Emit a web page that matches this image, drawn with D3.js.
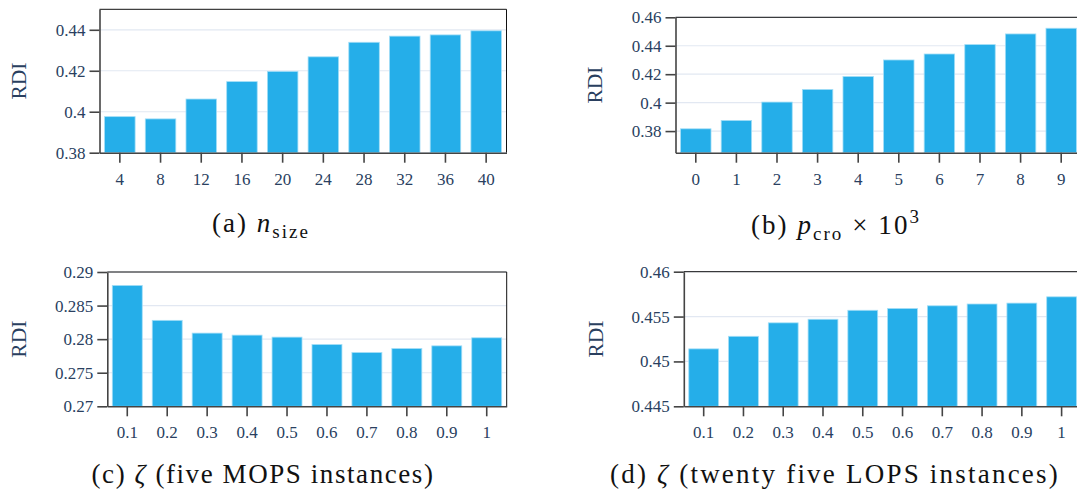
<!DOCTYPE html>
<html><head><meta charset="utf-8">
<script src="https://cdn.jsdelivr.net/npm/d3@7"></script>
<style>body{margin:0;background:#fff}svg{display:block}</style>
</head><body>
<svg id="c" width="1077" height="495"></svg>
<script>
// ---- data ----
const catsSize = ["4","8","12","16","20","24","28","32","36","40"];
const valsSize = [0.3976,0.3965,0.4062,0.4147,0.4197,0.4268,0.4339,0.4369,0.4375,0.4395];
const catsCro = ["0","1","2","3","4","5","6","7","8","9"];
const valsCro = [0.3816,0.3875,0.4004,0.4093,0.4184,0.4300,0.4342,0.4408,0.4483,0.4523];
const catsZeta = ["0.1","0.2","0.3","0.4","0.5","0.6","0.7","0.8","0.9","1"];
const valsMOPS = [0.2880,0.2828,0.2809,0.2806,0.2803,0.2792,0.2780,0.2786,0.2790,0.2802];
const valsLOPS = [0.4514,0.4528,0.4543,0.4547,0.4557,0.4559,0.4562,0.4564,0.4565,0.4572];
const ticksA = [0.38,0.40,0.42,0.44], tickLabA = ["0.38","0.4","0.42","0.44"];
const ticksB = [0.38,0.40,0.42,0.44,0.46], tickLabB = ["0.38","0.4","0.42","0.44","0.46"];
const ticksC = [0.27,0.275,0.28,0.285,0.29], tickLabC = ["0.27","0.275","0.28","0.285","0.29"];
const ticksD = [0.445,0.45,0.455,0.46], tickLabD = ["0.445","0.45","0.455","0.46"];
const domA = [0.38,0.45], domB = [0.3648,0.46], domC = [0.27,0.29], domD = [0.445,0.46];
const yTitle = "RDI";

// ---- layout ----
const panels = [
  {cats:catsSize, vals:valsSize, ticks:ticksA, labs:tickLabA, dom:domA,
   left:99.5, right:506.5, top:9.3, bottom:152.7, ylabOff:74,
   title:[{t:"(a) "},{t:"n",i:true},{t:"size",sub:true}], tx:261, ty:232, tw:98},
  {cats:catsCro, vals:valsCro, ticks:ticksB, labs:tickLabB, dom:domB,
   left:675.5, right:1081.5, top:17.3, bottom:152.7, ylabOff:74,
   title:[{t:"(b) "},{t:"p",i:true},{t:"cro",sub:true},{t:" \u00d7 10"},{t:"3",sup:true}], tx:836, ty:234, tw:170},
  {cats:catsZeta, vals:valsMOPS, ticks:ticksC, labs:tickLabC, dom:domC,
   left:107.3, right:506.7, top:272, bottom:406.3, ylabOff:81,
   title:[{t:"(c) "},{t:"\u03b6",i:true},{t:" (five MOPS instances)"}], tx:263, ty:483, tw:343},
  {cats:catsZeta, vals:valsLOPS, ticks:ticksD, labs:tickLabD, dom:domD,
   left:683.8, right:1081.5, top:271.7, bottom:406.3, ylabOff:81,
   title:[{t:"(d) "},{t:"\u03b6",i:true},{t:" (twenty five LOPS instances)"}], tx:835, ty:483, tw:450}
];

const svg = d3.select("#c");
const tickFont = "Liberation Serif, DejaVu Serif, serif";
const txtCol = "#2a3f5f";

panels.forEach(p => {
  const x = d3.scaleBand().domain(p.cats).range([p.left,p.right]).paddingInner(0.25).paddingOuter(0.125);
  const y = d3.scaleLinear().domain(p.dom).range([p.bottom,p.top]);
  const g = svg.append("g");
  g.selectAll("line.grid").data(p.ticks).join("line").attr("class","grid")
    .attr("x1",p.left).attr("x2",p.right).attr("y1",d=>y(d)).attr("y2",d=>y(d))
    .attr("stroke","#e2e8f2").attr("stroke-width",1.2);
  g.selectAll("rect.bar").data(p.vals).join("rect").attr("class","bar")
    .attr("x",(d,i)=>x(p.cats[i])).attr("width",x.bandwidth())
    .attr("y",d=>y(d)).attr("height",d=>y(p.dom[0])-y(d))
    .attr("fill","#25aee9").attr("stroke","#a3def7").attr("stroke-width",0.8);
  g.append("path").attr("d",`M${p.left},${p.top}H${p.right}V${p.bottom}`)
    .attr("fill","none").attr("stroke","#111").attr("stroke-width",1);
  const ya = d3.axisLeft(y).tickValues(p.ticks).tickFormat((d,i)=>p.labs[i])
    .tickSize(10).tickSizeOuter(0).tickPadding(4);
  const xa = d3.axisBottom(x).tickSize(10).tickSizeOuter(0).tickPadding(10);
  const gy = g.append("g").attr("transform",`translate(${p.left},0)`).call(ya);
  const gx = g.append("g").attr("transform",`translate(0,${p.bottom})`).call(xa);
  [gy,gx].forEach(a => {
    a.attr("font-family",tickFont).attr("font-size",17);
    a.select(".domain").attr("stroke","#444").attr("stroke-width",1.6);
    a.selectAll(".tick line").attr("stroke","#444").attr("stroke-width",1.6);
    a.selectAll(".tick text").attr("fill",txtCol);
  });
  g.append("text")
    .attr("transform",`translate(${p.left-p.ylabOff},${(p.top+p.bottom)/2}) rotate(-90)`)
    .attr("text-anchor","middle").attr("fill",txtCol)
    .attr("font-family",tickFont).attr("font-size",21.5).text(yTitle);
  // caption
  const t = g.append("text").attr("x",p.tx).attr("y",p.ty).attr("text-anchor","middle")
    .attr("fill","#111").attr("font-family",tickFont).attr("font-size",27);
  let shift = 0;
  p.title.forEach(s => {
    const ts = t.append("tspan").text(s.t);
    if (s.i) ts.attr("font-style","italic");
    if (s.sub) { ts.attr("font-size",19).attr("dy", 6 - shift); shift = 6; }
    else if (s.sup) { ts.attr("font-size",19).attr("dy", -11 - shift); shift = -11; }
    else if (shift !== 0) { ts.attr("dy", -shift); shift = 0; }
  });
  const w = t.node().getComputedTextLength();
  const n = t.text().length;
  t.attr("letter-spacing", ((p.tw - w)/n));
});
</script>
</body></html>
